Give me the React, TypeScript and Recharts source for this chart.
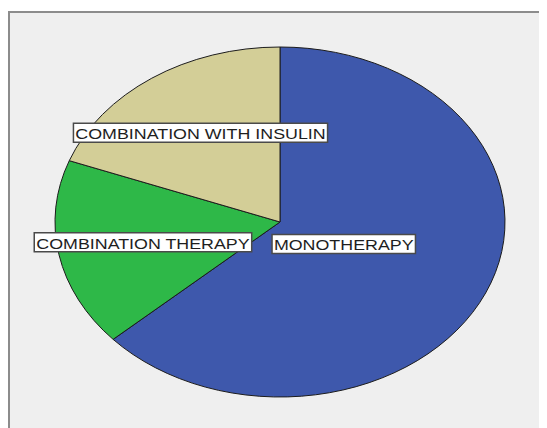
import { Cell, Pie, PieChart } from "recharts";

// slice data (percent of patients)
const categories = ["MONOTHERAPY", "COMBINATION THERAPY", "COMBINATION WITH INSULIN"];
const percentages = [63.3, 17.4, 19.3];
const sliceColors = ["#3E58AC", "#2EB848", "#D3CE97"];

const data = categories.map((name, i) => ({ name, value: percentages[i] }));

const RAD = Math.PI / 180;
const RX = 225;
const RY = 175;
const LABEL_REACH = [0.31, 0.62, 0.62];
const FONT = "15px 'Liberation Sans', Arial, sans-serif";
const STRETCH = 1.19;

function measure(text: string) {
  const ctx = document.createElement("canvas").getContext("2d");
  if (!ctx) return text.length * 9;
  ctx.font = FONT;
  return ctx.measureText(text).width;
}

function ellipsePoint(cx: number, cy: number, angle: number, k = 1) {
  return [cx + k * RX * Math.cos(-angle * RAD), cy + k * RY * Math.sin(-angle * RAD)];
}

function EllipseSector(props: any) {
  const { cx, cy, startAngle, endAngle, fill } = props;
  const [x0, y0] = ellipsePoint(cx, cy, startAngle);
  const [x1, y1] = ellipsePoint(cx, cy, endAngle);
  const large = Math.abs(startAngle - endAngle) > 180 ? 1 : 0;
  const sweep = startAngle > endAngle ? 1 : 0;
  const d = `M${cx},${cy} L${x0},${y0} A${RX},${RY} 0 ${large} ${sweep} ${x1},${y1} Z`;
  return <path d={d} fill={fill} stroke="#1c1c1c" strokeWidth={1} strokeLinejoin="round" />;
}

function SliceLabel(props: any) {
  const { cx, cy, midAngle, index } = props;
  const name: string = props.payload?.name ?? props.name;
  const [x, y] = ellipsePoint(cx, cy, midAngle, LABEL_REACH[index]);
  const w = measure(name) + 3;
  const h = 19;
  return (
    <g transform={`translate(${x},${y}) scale(${STRETCH},1)`}>
      <rect
        x={-w / 2}
        y={-h / 2}
        width={w}
        height={h}
        fill="#fff"
        stroke="#4a4a4a"
        strokeWidth={1.5}
        vectorEffect="non-scaling-stroke"
      />
      <text
        x={0}
        y={1}
        textAnchor="middle"
        dominantBaseline="central"
        style={{ font: FONT }}
        fill="#1e1e1e"
      >
        {name}
      </text>
    </g>
  );
}

export default function App() {
  return (
    <div style={{ paddingTop: 3 }}>
      <style>{"html,body{overflow:hidden}"}</style>
      <div
        style={{
          width: 545,
          height: 415,
          background: "#efefef",
          borderTop: "2px solid #8c8c8c",
          borderLeft: "2px solid #8c8c8c",
        }}
      >
        <PieChart width={545} height={415} margin={{ top: 0, right: 0, bottom: 0, left: 0 }}>
          <Pie
            data={data}
            dataKey="value"
            nameKey="name"
            cx={270}
            cy={209}
            outerRadius={RX}
            startAngle={90}
            endAngle={-270}
            stroke="#1c1c1c"
            shape={EllipseSector}
            label={SliceLabel}
            labelLine={false}
            isAnimationActive={false}
          >
            {data.map((d, i) => (
              <Cell key={d.name} fill={sliceColors[i]} />
            ))}
          </Pie>
        </PieChart>
      </div>
    </div>
  );
}
